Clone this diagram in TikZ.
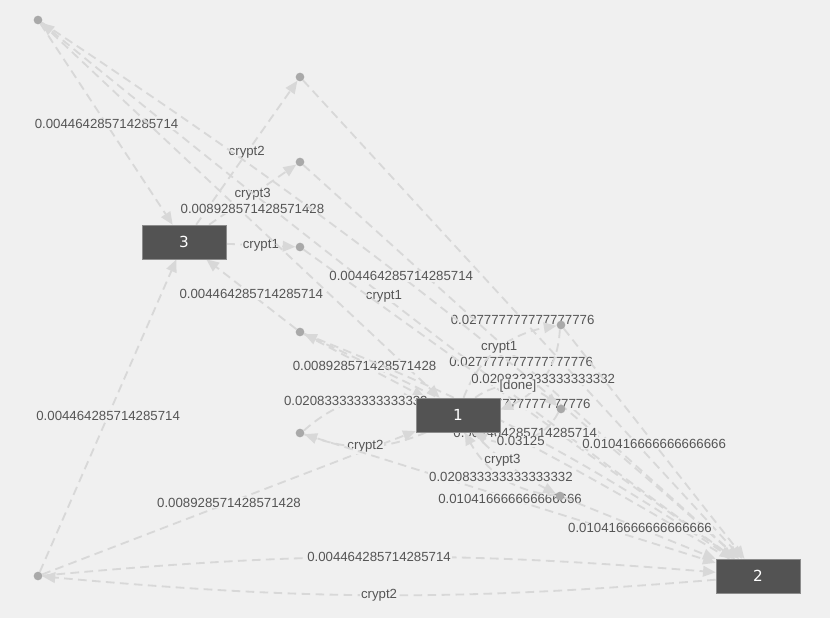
\documentclass[tikz,border=0pt]{standalone}
\usepackage{fontspec}
\setmainfont{Liberation Sans}
\newfontfamily\boxfont{DejaVu Sans}
\usetikzlibrary{arrows.meta,bending}
\definecolor{canvas}{HTML}{F0F0F0}
\definecolor{wire}{HTML}{D8D8D8}
\definecolor{dotgray}{HTML}{A9A9A9}
\definecolor{boxgray}{HTML}{535353}
\definecolor{boxedge}{HTML}{8C8C8C}
\definecolor{labelgray}{HTML}{555555}
\pgfdeclarelayer{front}
\pgfsetlayers{main,front}
\tikzset{
  state/.style={rectangle, fill=boxgray, draw=boxedge, line width=0.5pt,
    minimum width=25.2mm, minimum height=10.2mm, inner sep=0pt,
    text=white, font=\boxfont\fontsize{13}{15}\selectfont},
  choice/.style={circle, fill=dotgray, minimum size=2.6mm, inner sep=0pt},
  conn/.style={draw=wire, line width=0.55mm, dash pattern=on 2.6mm off 1.6mm,
    -{Triangle[length=3.8mm,width=3.2mm]}},
  lbl/.style={fill=canvas, text=labelgray, inner sep=0.8pt,
    font=\fontsize{11.3}{13}\selectfont},
}
\begin{document}
\begin{tikzpicture}[x=0.3mm,y=-0.3mm]
\fill[canvas] (0,0) rectangle (830,618);
\useasboundingbox (0,0) rectangle (830,618);

% states and choice points
\begin{pgfonlayer}{front}
\node[state] (s3) at (184,242) {3};
\node[state] (s1) at (458,415) {1};
\node[state] (s2) at (758,576) {2};
\node[choice] (t) at (38,20) {};
\node[choice] (a) at (300,77) {};
\node[choice] (b) at (300,162) {};
\node[choice] (c) at (300,247) {};
\node[choice] (d) at (300,332) {};
\node[choice] (e) at (300,433) {};
\node[choice] (f) at (561,325) {};
\node[choice] (g) at (561,409) {};
\node[choice] (h) at (560,496) {};
\node[choice] (l) at (38,576) {};
\end{pgfonlayer}

% actions of state 3
\draw[conn] (s3) -- node[lbl]{crypt2} (a);
\draw[conn] (s3) -- node[lbl]{crypt3} (b);
\draw[conn] (s3) -- node[lbl]{crypt1} (c);

% actions of state 2
\draw[conn] (s2) to[bend left=1.5] node[lbl]{crypt1} (t);
\draw[conn] (s2) to[bend left=5] node[lbl]{crypt2} (l);
\draw[conn] (s2) to[bend right=3] node[lbl]{crypt3} (d);

% outcomes of the state 3 actions
\draw[conn] (a) -- node[lbl]{0.027777777777777776} (s2);
\draw[conn] (b) -- node[lbl]{0.027777777777777776} (s2);
\draw[conn] (c) -- node[lbl]{0.027777777777777776} (s2);

% outcomes of the state 2 actions
\draw[conn] (t) -- node[lbl]{0.004464285714285714} (s3);
\draw[conn] (t) -- node[lbl,pos=.53,yshift=3.9mm]{0.008928571428571428} (s1);
\draw[conn] (t) to[bend left=4] node[lbl]{0.004464285714285714} (s2);
\draw[conn] (l) -- node[lbl]{0.004464285714285714} (s3);
\draw[conn] (l) -- node[lbl]{0.008928571428571428} (s1);
\draw[conn] (l) to[bend left=5] node[lbl]{0.004464285714285714} (s2);
\draw[conn] (d) -- node[lbl]{0.004464285714285714} (s3);
\draw[conn] (d) -- node[lbl]{0.008928571428571428} (s1);
\draw[conn] (d) to[bend left=6] node[lbl]{0.004464285714285714} (s2);

% actions of state 1 and their outcomes
\draw[conn] (s1) to[bend left=22] node[lbl]{crypt2} (e);
\draw[conn] (e) to[bend left=26] node[lbl]{0.020833333333333332} (s1);
\draw[conn] (e) -- node[lbl]{0.010416666666666666} (s2);
\draw[conn] (s1) to[bend left=31] node[lbl]{crypt1} (f);
\draw[conn] (f) to[bend left=34] node[lbl]{0.020833333333333332} (s1);
\draw[conn] (f) -- node[lbl]{0.010416666666666666} (s2);
\draw[conn] (s1) to[bend left=42] node[lbl]{[done]} (g);
\draw[conn] (g) to[bend left=50] node[lbl]{0.03125} (s1);
\draw[conn] (s1) to[bend right=10] node[lbl,pos=.38]{crypt3} (h);
\draw[conn] (h) to[bend left=30] node[lbl]{0.020833333333333332} (s1);
\draw[conn] (h) -- node[lbl]{0.010416666666666666} (s2);
\end{tikzpicture}
\end{document}
